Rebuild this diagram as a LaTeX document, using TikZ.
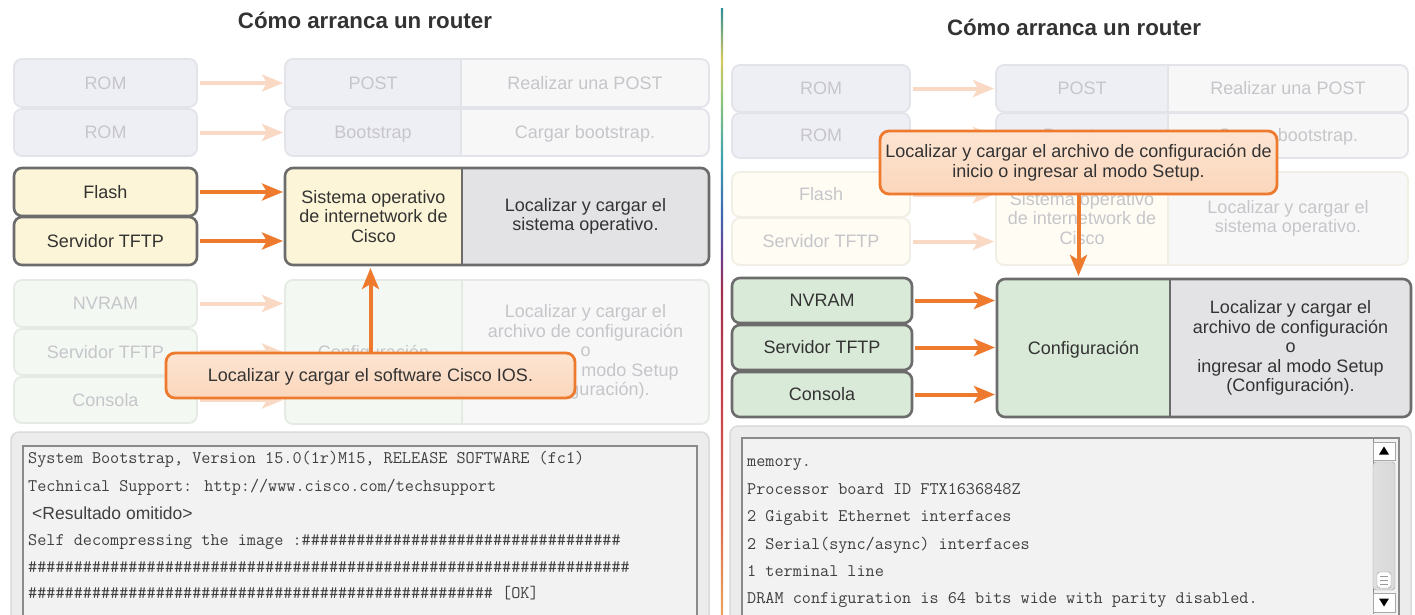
\documentclass[tikz,border=0pt]{standalone}
\usepackage{fontspec}
\setmainfont{Liberation Sans}
\usetikzlibrary{arrows.meta}

\definecolor{orng}{HTML}{EE7A2E}
\definecolor{orngfade}{HTML}{F9D9C4}
\definecolor{callfill}{HTML}{FBD6BB}
\definecolor{callfilltop}{HTML}{FDE5D3}
\definecolor{actline}{HTML}{6C6C6C}
\definecolor{yfill}{HTML}{FDF5D7}
\definecolor{gfill}{HTML}{DAEAD8}
\definecolor{rfill}{HTML}{E3E2E4}
\definecolor{lavfill}{HTML}{EEEEF5}
\definecolor{lavline}{HTML}{E3E3EA}
\definecolor{fadeR}{HTML}{F7F7F8}
\definecolor{yfade}{HTML}{FEFCF3}
\definecolor{yfadeline}{HTML}{F0EEE5}
\definecolor{gfade}{HTML}{F4F8F3}
\definecolor{gfadeline}{HTML}{E5EAE5}
\definecolor{fadetxt}{HTML}{C6C6CA}
\definecolor{darktxt}{HTML}{333333}
\definecolor{termouter}{HTML}{ECECEC}
\definecolor{termouterline}{HTML}{DADADA}
\definecolor{terminner}{HTML}{F2F2F2}
\definecolor{terminnerline}{HTML}{8A8A8A}
\definecolor{termtxt}{HTML}{404040}
\definecolor{rbA}{HTML}{EBA35C}
\definecolor{rbB}{HTML}{D8604A}
\definecolor{rbC}{HTML}{C8404A}
\definecolor{rbD}{HTML}{A0304E}
\definecolor{rbE}{HTML}{6A3E8E}
\definecolor{rbF}{HTML}{3F66B0}
\definecolor{rbG}{HTML}{3AA0B0}
\definecolor{rbH}{HTML}{8CC57A}
\definecolor{rbI}{HTML}{D4C860}
\definecolor{rbJ}{HTML}{2F8E96}

\pgfdeclareverticalshading{rainbowline}{100bp}{color(0bp)=(rbA); color(25bp)=(rbA); color(34.4bp)=(rbB); color(42.66bp)=(rbC); color(51.73bp)=(rbD); color(54.62bp)=(rbE); color(57.92bp)=(rbF); color(62.46bp)=(rbG); color(67.41bp)=(rbH); color(70.71bp)=(rbI); color(75bp)=(rbJ); color(100bp)=(rbJ)}

\newcommand\SplitBox[9]{%
  \begin{scope}
    \clip[rounded corners=8pt] (#2,#3) rectangle (#5,#6);
    \fill[#7] (#2,#3) rectangle (#4,#6);
    \fill[#8] (#4,#3) rectangle (#5,#6);
  \end{scope}
  \node[inner sep=0pt, outer sep=0pt, minimum width={(#4-#2)*1pt}, minimum height={(#6-#3)*1pt}] (#1L) at ({(#2+#4)/2},{(#3+#6)/2}) {};
  \node[inner sep=0pt, outer sep=0pt, minimum width={(#5-#4)*1pt}, minimum height={(#6-#3)*1pt}] (#1R) at ({(#4+#5)/2},{(#3+#6)/2}) {};
  \draw[#9] (#4,#3) -- (#4,#6);
  \draw[#9, rounded corners=8pt] (#2,#3) rectangle (#5,#6);
}
\newcommand\rephash[1]{\foreach \k in {1,...,#1}{\#}}

\tikzset{
  txt/.style={font=\fontsize{18}{19.5}\selectfont, align=center, inner sep=0pt},
  sl/.style={text height=12.9pt, text depth=0pt},
  ft/.style={txt, text=fadetxt},
  dt/.style={txt, text=darktxt},
  srcbox/.style={rounded corners=8pt, minimum width=183pt, inner sep=0pt, sl, font=\fontsize{18}{19.5}\selectfont},
  flav/.style={srcbox, draw=lavline, fill=lavfill, line width=1.8pt, text=fadetxt},
  fyel/.style={srcbox, draw=yfadeline, fill=yfade, line width=1.8pt, text=fadetxt},
  fgrn/.style={srcbox, draw=gfadeline, fill=gfade, line width=1.8pt, text=fadetxt},
  ayel/.style={srcbox, draw=actline, fill=yfill, line width=2.6pt, text=darktxt},
  agrn/.style={srcbox, draw=actline, fill=gfill, line width=2.6pt, text=darktxt},
  actdraw/.style={draw=actline, line width=2.6pt},
  lavdraw/.style={draw=lavline, line width=1.8pt},
  yeldraw/.style={draw=yfadeline, line width=1.8pt},
  grndraw/.style={draw=gfadeline, line width=1.8pt},
  arr/.style={draw=orng, line width=4pt, -{Stealth[length=21pt, width=17pt, inset=5pt]}, shorten <=2pt, shorten >=2pt},
  farr/.style={arr, draw=orngfade},
  callout/.style={draw=orng, line width=2.8pt, rounded corners=9pt, top color=callfilltop, bottom color=callfill, text=darktxt, font=\fontsize{18}{19.5}\selectfont, align=center, inner sep=0pt},
  ttl/.style={font=\fontsize{22.3}{25}\selectfont\bfseries, text=darktxt, inner sep=0pt},
  mono/.style={anchor=base west, inner sep=0pt, font=\fontsize{17.7}{20}\selectfont\ttfamily, text=termtxt},
  monosans/.style={anchor=base west, inner sep=0pt, font=\fontsize{17.5}{20}\selectfont, text=termtxt},
  termO/.style={draw=termouterline, fill=termouter, line width=1.5pt, rounded corners=8pt},
  termI/.style={draw=terminnerline, fill=terminner, line width=2pt},
}

\begin{document}
\begin{tikzpicture}[x=1pt, y=-1pt]
\useasboundingbox (0,0) rectangle (1415,614);
\fill[white] (0,0) rectangle (1415,614);

%================ LEFT PANEL ================
\node[ttl] (titleA) at (365,20) {Cómo arranca un router};

% faded rows
\node[flav, minimum height=48pt] (romA1) at (105.5,83) {ROM};
\node[flav, minimum height=47pt] (romA2) at (105.5,132.5) {ROM};
\SplitBox{postA}{285}{59}{461}{709}{107}{lavfill}{fadeR}{lavdraw}
\node[ft, sl] (postAt) at (postAL) {POST};
\node[ft, sl] (postAr) at (postAR) {Realizar una POST};
\SplitBox{bootA}{285}{109}{461}{709}{156}{lavfill}{fadeR}{lavdraw}
\node[ft, sl] (bootAt) at (bootAL) {Bootstrap};
\node[ft, sl] (bootAr) at (bootAR) {Cargar bootstrap.};
\draw[farr] (romA1.east) -- (romA1.east -| postAL.west);
\draw[farr] (romA2.east) -- (romA2.east -| bootAL.west);

\node[fgrn, minimum height=47pt] (nvA) at (105.5,303.5) {NVRAM};
\node[fgrn, minimum height=46pt] (tftpA2) at (105.5,352) {Servidor TFTP};
\node[fgrn, minimum height=46pt] (conA) at (105.5,400) {Consola};
\SplitBox{cfgA}{285}{280}{462}{709}{424}{gfade}{fadeR}{grndraw}
\node[ft, sl] (cfgAt) at (cfgAL) {Configuración};
\node[ft] (cfgAr) at (cfgAR) {Localizar y cargar el\\archivo de configuración\\o\\ingresar al modo Setup\\(Configuración).};
\draw[farr] (nvA.east) -- (nvA.east -| cfgAL.west);
\draw[farr] (tftpA2.east) -- (tftpA2.east -| cfgAL.west);
\draw[farr] (conA.east) -- (conA.east -| cfgAL.west);

% active rows
\node[ayel, minimum height=48pt] (flashA) at (105.5,192) {Flash};
\node[ayel, minimum height=48pt] (tftpA) at (105.5,241) {Servidor TFTP};
\SplitBox{sysA}{285}{168}{462}{709}{265}{yfill}{rfill}{actdraw}
\node[dt] (sysAt) at (sysAL) {Sistema operativo\\de internetwork de\\Cisco};
\node[dt] (sysAr) at (sysAR) {Localizar y cargar el\\sistema operativo.};
\draw[arr] (flashA.east) -- (flashA.east -| sysAL.west);
\draw[arr] (tftpA.east) -- (tftpA.east -| sysAL.west);

% terminal
\draw[termO] (11,432) rectangle (709,640);
\draw[termI] (23,446) rectangle (697,640);
\node[mono] (tA1) at (28,463) {System Bootstrap, Version 15.0(1r)M15, RELEASE SOFTWARE (fc1)};
\node[mono] (tA2) at (28,491) {Technical Support: http://www.cisco.com/techsupport};
\node[monosans] (tA3) at (32,519) {<Resultado omitido>};
\node[mono] (tA4) at (28,545) {Self decompressing the image :\rephash{35}};
\node[mono] (tA5) at (28,572) {\rephash{66}};
\node[mono] (tA6) at (28,598) {\rephash{51} [OK]};

% callout
\node[callout, sl, minimum width=409pt, minimum height=45pt] (callA) at (370.5,375.5) {Localizar y cargar el software Cisco IOS.};
\draw[arr, shorten <=0pt, shorten >=3pt] (callA.north) -- (callA.north |- sysAL.south);

%================ DIVIDER ================
\shade[shading=rainbowline] (720.8,8) rectangle (723.2,614);

%================ RIGHT PANEL ================
\node[ttl] (titleB) at (1074,27) {Cómo arranca un router};

\node[flav, minimum width=178pt, minimum height=47pt] (romB1) at (821,88.5) {ROM};
\node[flav, minimum width=178pt, minimum height=45pt] (romB2) at (821,135.5) {ROM};
\SplitBox{postB}{996}{65}{1168}{1408}{112}{lavfill}{fadeR}{lavdraw}
\node[ft, sl] (postBt) at (postBL) {POST};
\node[ft, sl] (postBr) at (postBR) {Realizar una POST};
\SplitBox{bootB}{996}{113}{1168}{1408}{158}{lavfill}{fadeR}{lavdraw}
\node[ft, sl] (bootBt) at (bootBL) {Bootstrap};
\node[ft, sl] (bootBr) at (bootBR) {Cargar bootstrap.};
\draw[farr] (romB1.east) -- (romB1.east -| postBL.west);
\draw[farr] (romB2.east) -- (romB2.east -| bootBL.west);

\node[fyel, minimum width=178pt, minimum height=45pt] (flashB) at (821,194.5) {Flash};
\node[fyel, minimum width=178pt, minimum height=47pt] (tftpB) at (821,241.5) {Servidor TFTP};
\SplitBox{sysB}{996}{172}{1168}{1408}{265}{yfade}{fadeR}{yeldraw}
\node[ft] (sysBt) at (sysBL) {Sistema operativo\\de internetwork de\\Cisco};
\node[ft] (sysBr) at (sysBR) {Localizar y cargar el\\sistema operativo.};
\draw[farr] (flashB.east) -- (flashB.east -| sysBL.west);
\draw[farr] (tftpB.east) -- (tftpB.east -| sysBL.west);

\node[agrn, minimum width=180pt, minimum height=45pt] (nvB) at (822,300.5) {NVRAM};
\node[agrn, minimum width=180pt, minimum height=45pt] (tftpB2) at (822,347.5) {Servidor TFTP};
\node[agrn, minimum width=180pt, minimum height=45pt] (conB) at (822,394.5) {Consola};
\SplitBox{cfgB}{997}{279}{1170}{1411}{417}{gfill}{rfill}{actdraw}
\node[dt, sl] (cfgBt) at (cfgBL) {Configuración};
\node[dt] (cfgBr) at (cfgBR) {Localizar y cargar el\\archivo de configuración\\o\\ingresar al modo Setup\\(Configuración).};
\draw[arr] (nvB.east) -- (nvB.east -| cfgBL.west);
\draw[arr] (tftpB2.east) -- (tftpB2.east -| cfgBL.west);
\draw[arr] (conB.east) -- (conB.east -| cfgBL.west);

% terminal
\draw[termO] (730,426) rectangle (1411,640);
\draw[termI] (742,438) rectangle (1399,640);
\node[mono] (tB1) at (747,466) {memory.};
\node[mono] (tB2) at (747,494) {Processor board ID FTX1636848Z};
\node[mono] (tB3) at (747,521.5) {2 Gigabit Ethernet interfaces};
\node[mono] (tB4) at (747,549) {2 Serial(sync/async) interfaces};
\node[mono] (tB5) at (747,576) {1 terminal line};
\node[mono] (tB6) at (747,603) {DRAM configuration is 64 bits wide with parity disabled.};

% scrollbar
\draw[draw=terminnerline, line width=1pt] (1373,439) -- (1373,614);
\node[draw=gray!70, fill=white, minimum width=22pt, minimum height=18pt, inner sep=0pt] (upB) at (1384,451) {};
\fill[black] (1384,446.5) -- (1389,454.5) -- (1379,454.5) -- cycle;
\node[draw=gray!75, left color=gray!25, middle color=gray!48, right color=gray!30, minimum width=22pt, minimum height=128pt, inner sep=0pt, rounded corners=3pt] (thumbB) at (1384,526) {};
\node[draw=gray!80, fill=white, minimum width=14pt, minimum height=16pt, inner sep=0pt, rounded corners=3pt] (gripB) at (1384,580) {};
\draw[gray!80, line width=0.8pt] (1380,576) -- (1388,576) (1380,580) -- (1388,580) (1380,584) -- (1388,584);
\node[draw=gray!70, fill=white, minimum width=22pt, minimum height=19pt, inner sep=0pt] (dnB) at (1384,602.5) {};
\fill[black] (1384,606.5) -- (1389,598.5) -- (1379,598.5) -- cycle;

% callout
\node[callout, minimum width=397pt, minimum height=63pt] (callB) at (1078.5,162.5) {Localizar y cargar el archivo de configuración de\\inicio o ingresar al modo Setup.};
\draw[arr, shorten <=0pt, shorten >=3pt] (callB.south) -- (callB.south |- cfgBL.north);
\end{tikzpicture}
\end{document}
